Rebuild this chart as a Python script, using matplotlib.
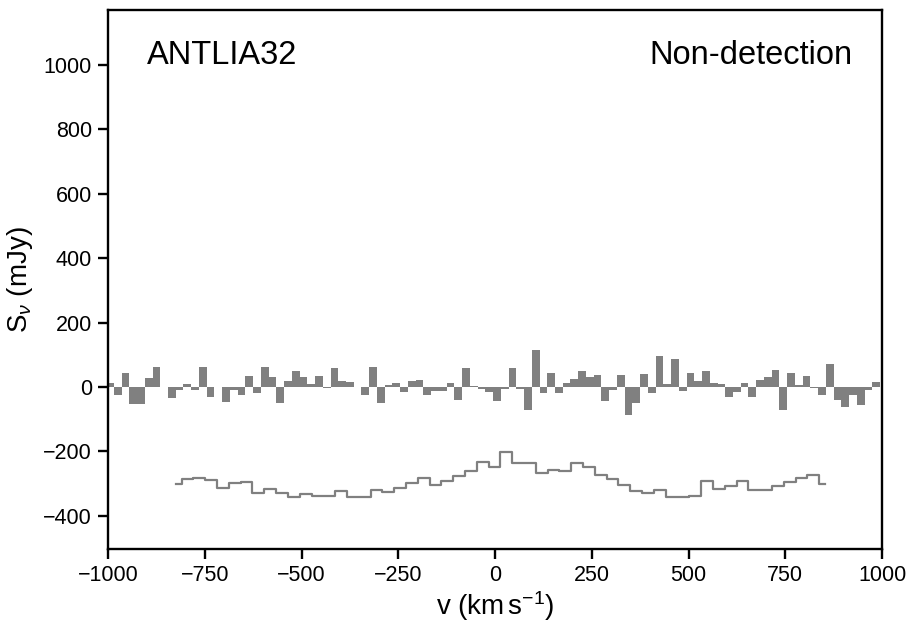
import matplotlib
matplotlib.use('Agg')
import matplotlib.pyplot as plt
import numpy as np

plt.rcParams['font.family'] = ['Liberation Sans', 'DejaVu Sans']
plt.rcParams['mathtext.fontset'] = 'custom'
plt.rcParams['mathtext.rm'] = 'Liberation Sans'
plt.rcParams['mathtext.it'] = 'Liberation Sans:italic'

# canais do espectro (20 km/s)
v_chan = np.arange(-995, 1000, 20)
flux = [12, -24, 43, -52, -52, 28, 62, 0, -33, -9,
        9, -9, 62, -30, 0, -47, -9, -25, 34, -18,
        62, 31, -49, 19, 50, 31, 9, 34, -2, 59,
        19, 16, 0, -24, 62, -49, 6, 12, -14, 19,
        22, -24, -11, -11, 12, -39, 59, 3, -7, -14,
        -42, -5, 59, -5, -70, 115, -20, 43, -20, 12,
        25, 50, 31, 37, -42, -9, 37, -86, -49, 40,
        -20, 96, 9, 87, -11, 43, 19, 50, 12, 9,
        -30, -14, 12, -30, 22, 31, 53, -70, 43, 6,
        34, -2, -24, 71, -39, -61, -24, -55, -9, 16]

# espectro suavizado (deslocado)
v_smooth = np.linspace(-825, 853, 56)
flux_smooth = [-301, -287, -283, -289, -312, -297, -295, -328, -318, -328,
               -343, -332, -339, -339, -322, -343, -343, -320, -327, -315,
               -299, -284, -304, -291, -276, -260, -232, -249, -203, -237,
               -237, -268, -258, -262, -237, -249, -272, -286, -304, -322,
               -330, -320, -343, -343, -338, -291, -318, -307, -292, -320,
               -320, -307, -296, -284, -273, -301]

fig, ax = plt.subplots(figsize=(9.16, 6.29), dpi=100)
fig.subplots_adjust(left=108/916, right=882/916, top=1-10/629, bottom=1-549/629)

ax.bar(v_chan, flux, width=20, color='#808080', linewidth=0)
ax.step(v_smooth, flux_smooth, where='mid', color='#808080', lw=1.6)

ax.set_xlim(-1000, 1000)
ax.set_ylim(-503, 1171)
ax.set_xticks(np.arange(-1000, 1001, 250))
ax.set_yticks(np.arange(-400, 1001, 200))

for s in ax.spines.values():
    s.set_linewidth(1.7)
ax.tick_params(direction='out', length=7.5, width=1.7, labelsize=15.5, pad=4)

ax.set_xlabel(r'v (km$\,$s$^{-1}$)', fontsize=20, labelpad=2)
ax.set_ylabel(r'S$_\nu$ (mJy)', fontsize=20, labelpad=6)

ax.text(0.05, 0.90, 'ANTLIA32', transform=ax.transAxes, fontsize=23.5, ha='left', va='baseline')
ax.text(0.9625, 0.90, 'Non-detection', transform=ax.transAxes, fontsize=23.5, ha='right', va='baseline')

plt.savefig('out.png', dpi=100)
